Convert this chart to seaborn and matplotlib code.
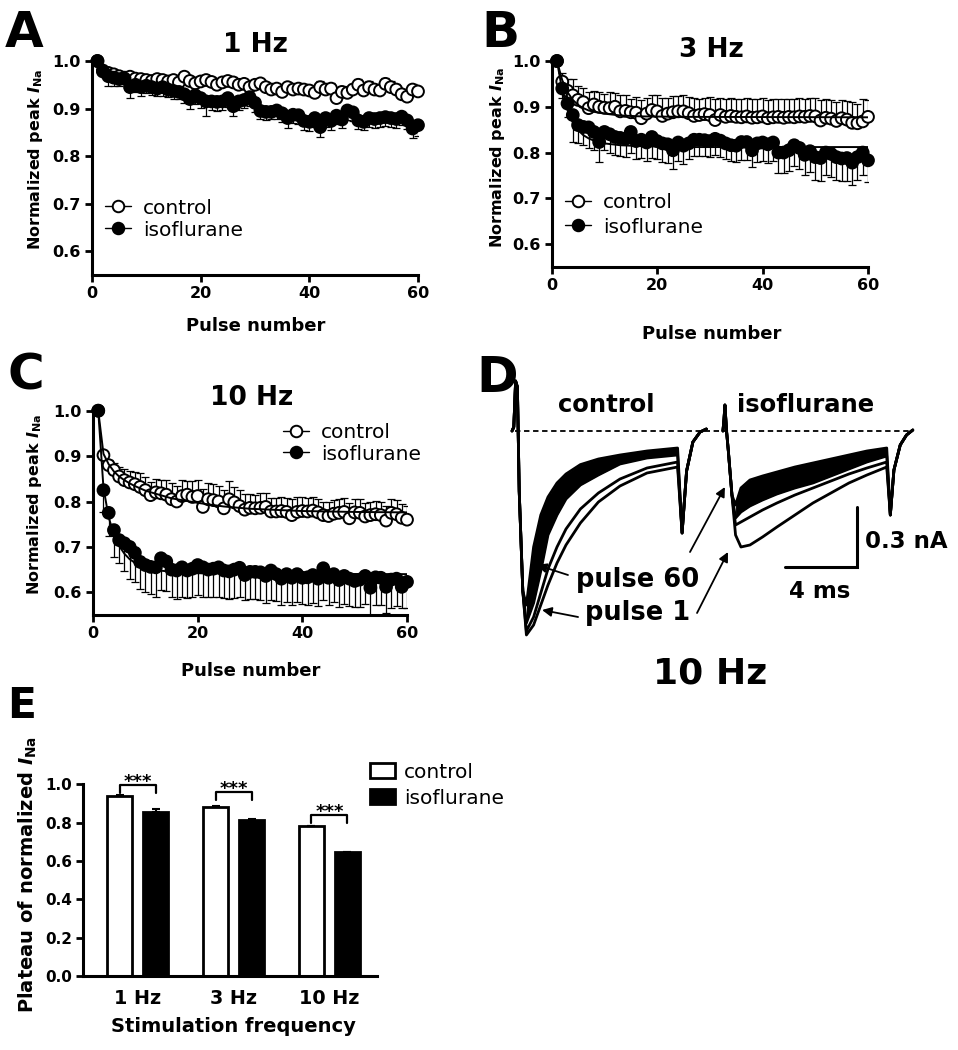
import numpy as np
import pandas as pd
import matplotlib
matplotlib.use("Agg")
import matplotlib.pyplot as plt
import seaborn as sns
from matplotlib.lines import Line2D
from matplotlib.container import BarContainer
from matplotlib.ticker import FormatStrFormatter

# ---------------- data ----------------
pulses = list(range(1, 61))

a_ctrl = [1.000, 0.978, 0.975, 0.972, 0.968, 0.965, 0.967, 0.963, 0.962, 0.960,
          0.958, 0.962, 0.960, 0.957, 0.960, 0.955, 0.967, 0.958, 0.953, 0.957,
          0.960, 0.956, 0.950, 0.955, 0.958, 0.955, 0.950, 0.952, 0.945, 0.950,
          0.953, 0.945, 0.940, 0.942, 0.935, 0.945, 0.940, 0.942, 0.940, 0.938,
          0.933, 0.945, 0.940, 0.942, 0.922, 0.935, 0.933, 0.940, 0.950, 0.938,
          0.945, 0.940, 0.938, 0.952, 0.945, 0.940, 0.930, 0.925, 0.940, 0.936]
a_ctrl_err = [0.000, 0.008, 0.010, 0.010, 0.008, 0.010, 0.010, 0.009, 0.010, 0.008,
              0.010, 0.009, 0.010, 0.010, 0.008, 0.010, 0.009, 0.010, 0.010, 0.009,
              0.010, 0.010, 0.010, 0.009, 0.010, 0.011, 0.010, 0.010, 0.010, 0.010,
              0.010, 0.011, 0.010, 0.010, 0.012, 0.010, 0.011, 0.010, 0.011, 0.012,
              0.012, 0.013, 0.012, 0.012, 0.012, 0.012, 0.012, 0.012, 0.012, 0.012,
              0.012, 0.012, 0.012, 0.012, 0.012, 0.012, 0.012, 0.013, 0.012, 0.013]
a_iso = [1.000, 0.980, 0.968, 0.965, 0.962, 0.963, 0.945, 0.950, 0.945, 0.948,
         0.945, 0.942, 0.945, 0.940, 0.937, 0.935, 0.930, 0.920, 0.928, 0.922,
         0.915, 0.915, 0.914, 0.915, 0.922, 0.905, 0.915, 0.918, 0.924, 0.912,
         0.895, 0.893, 0.893, 0.896, 0.890, 0.880, 0.887, 0.886, 0.874, 0.872,
         0.880, 0.861, 0.880, 0.874, 0.885, 0.877, 0.896, 0.892, 0.875, 0.872,
         0.880, 0.878, 0.880, 0.882, 0.880, 0.878, 0.883, 0.875, 0.858, 0.865]
a_iso_err = [0.000, 0.010, 0.020, 0.018, 0.015, 0.012, 0.022, 0.015, 0.018, 0.015,
             0.016, 0.015, 0.018, 0.015, 0.016, 0.015, 0.018, 0.020, 0.018, 0.020,
             0.030, 0.018, 0.020, 0.018, 0.018, 0.020, 0.018, 0.016, 0.018, 0.020,
             0.018, 0.018, 0.016, 0.018, 0.018, 0.020, 0.018, 0.018, 0.020, 0.020,
             0.018, 0.020, 0.018, 0.020, 0.018, 0.018, 0.020, 0.018, 0.018, 0.018,
             0.018, 0.018, 0.018, 0.018, 0.018, 0.018, 0.018, 0.018, 0.020, 0.022]

b_ctrl = [1.000, 0.955, 0.935, 0.925, 0.915, 0.910, 0.897, 0.905, 0.900, 0.898,
          0.897, 0.900, 0.890, 0.891, 0.888, 0.887, 0.875, 0.885, 0.893, 0.890,
          0.880, 0.885, 0.888, 0.890, 0.890, 0.886, 0.880, 0.882, 0.884, 0.882,
          0.871, 0.882, 0.878, 0.880, 0.878, 0.877, 0.879, 0.876, 0.877, 0.879,
          0.875, 0.877, 0.878, 0.876, 0.878, 0.877, 0.879, 0.878, 0.880, 0.879,
          0.870, 0.876, 0.874, 0.869, 0.875, 0.872, 0.865, 0.864, 0.868, 0.878]
b_ctrl_err = [0.000, 0.018, 0.025, 0.035, 0.030, 0.030, 0.035, 0.030, 0.032, 0.030,
              0.035, 0.030, 0.035, 0.035, 0.030, 0.035, 0.040, 0.035, 0.032, 0.035,
              0.040, 0.035, 0.035, 0.033, 0.035, 0.035, 0.040, 0.035, 0.035, 0.040,
              0.045, 0.038, 0.040, 0.040, 0.040, 0.040, 0.040, 0.040, 0.040, 0.040,
              0.040, 0.040, 0.040, 0.040, 0.040, 0.040, 0.040, 0.040, 0.040, 0.040,
              0.045, 0.040, 0.040, 0.042, 0.040, 0.040, 0.045, 0.042, 0.048, 0.037]
b_iso = [1.000, 0.940, 0.907, 0.882, 0.860, 0.856, 0.855, 0.845, 0.823, 0.845,
         0.840, 0.834, 0.832, 0.830, 0.845, 0.825, 0.828, 0.822, 0.834, 0.825,
         0.820, 0.818, 0.805, 0.822, 0.815, 0.820, 0.828, 0.828, 0.827, 0.825,
         0.830, 0.826, 0.820, 0.816, 0.815, 0.823, 0.823, 0.805, 0.820, 0.822,
         0.818, 0.822, 0.800, 0.800, 0.805, 0.816, 0.810, 0.795, 0.803, 0.790,
         0.788, 0.800, 0.797, 0.790, 0.787, 0.788, 0.778, 0.790, 0.800, 0.783]
b_iso_err = [0.000, 0.020, 0.030, 0.060, 0.040, 0.040, 0.045, 0.040, 0.043, 0.040,
             0.040, 0.040, 0.040, 0.040, 0.045, 0.040, 0.040, 0.040, 0.045, 0.040,
             0.040, 0.040, 0.040, 0.040, 0.040, 0.035, 0.035, 0.035, 0.035, 0.035,
             0.035, 0.035, 0.035, 0.035, 0.035, 0.040, 0.040, 0.037, 0.040, 0.040,
             0.040, 0.040, 0.045, 0.045, 0.045, 0.045, 0.045, 0.045, 0.045, 0.050,
             0.050, 0.050, 0.050, 0.050, 0.050, 0.050, 0.048, 0.050, 0.050, 0.048]

c_ctrl = [1.000, 0.902, 0.880, 0.869, 0.855, 0.847, 0.842, 0.838, 0.832, 0.825,
          0.814, 0.820, 0.818, 0.815, 0.805, 0.800, 0.812, 0.815, 0.810, 0.812,
          0.788, 0.805, 0.803, 0.800, 0.785, 0.805, 0.798, 0.790, 0.782, 0.786,
          0.785, 0.786, 0.788, 0.778, 0.778, 0.779, 0.777, 0.770, 0.777, 0.779,
          0.778, 0.780, 0.776, 0.770, 0.768, 0.773, 0.775, 0.777, 0.763, 0.776,
          0.775, 0.767, 0.770, 0.772, 0.770, 0.758, 0.775, 0.772, 0.764, 0.760]
c_ctrl_err = [0.000, 0.010, 0.012, 0.015, 0.020, 0.025, 0.025, 0.028, 0.030, 0.028,
              0.030, 0.030, 0.030, 0.032, 0.035, 0.035, 0.035, 0.030, 0.035, 0.035,
              0.040, 0.035, 0.035, 0.035, 0.040, 0.040, 0.035, 0.035, 0.035, 0.030,
              0.030, 0.032, 0.030, 0.030, 0.030, 0.032, 0.030, 0.035, 0.033, 0.032,
              0.030, 0.030, 0.030, 0.030, 0.030, 0.030, 0.030, 0.030, 0.033, 0.030,
              0.030, 0.030, 0.030, 0.030, 0.030, 0.033, 0.030, 0.032, 0.030, 0.030]
c_iso = [1.000, 0.825, 0.775, 0.737, 0.715, 0.708, 0.700, 0.687, 0.667, 0.660,
         0.656, 0.655, 0.675, 0.668, 0.650, 0.648, 0.655, 0.648, 0.652, 0.660,
         0.655, 0.650, 0.652, 0.655, 0.648, 0.646, 0.650, 0.654, 0.638, 0.645,
         0.645, 0.644, 0.636, 0.648, 0.640, 0.630, 0.640, 0.632, 0.640, 0.632,
         0.633, 0.638, 0.630, 0.653, 0.632, 0.640, 0.627, 0.636, 0.630, 0.625,
         0.628, 0.636, 0.610, 0.633, 0.632, 0.612, 0.628, 0.630, 0.612, 0.623]
c_iso_err = [0.000, 0.048, 0.050, 0.060, 0.050, 0.060, 0.070, 0.065, 0.060, 0.060,
             0.060, 0.065, 0.070, 0.065, 0.060, 0.062, 0.065, 0.060, 0.062, 0.065,
             0.065, 0.060, 0.062, 0.065, 0.060, 0.060, 0.062, 0.065, 0.055, 0.060,
             0.060, 0.062, 0.060, 0.065, 0.060, 0.058, 0.062, 0.060, 0.062, 0.058,
             0.060, 0.062, 0.060, 0.070, 0.060, 0.062, 0.060, 0.062, 0.060, 0.058,
             0.060, 0.062, 0.060, 0.062, 0.060, 0.058, 0.062, 0.060, 0.047, 0.058]

# fitted curves (pulse, value)
b_ctrl_fit_x = [1, 2, 3, 4, 5, 6, 7, 8, 10, 13, 17, 25, 60]
b_ctrl_fit_y = [1.0, 0.958, 0.932, 0.915, 0.904, 0.897, 0.892, 0.889, 0.885, 0.881, 0.879, 0.878, 0.877]
b_iso_fit_x = [1, 2, 3, 4, 5, 6, 7, 8, 10, 13, 17, 25, 60]
b_iso_fit_y = [1.0, 0.935, 0.893, 0.866, 0.849, 0.838, 0.831, 0.826, 0.820, 0.816, 0.814, 0.812, 0.812]
c_ctrl_fit_x = [1, 2, 3, 4, 5, 6, 7, 8, 10, 12, 15, 20, 25, 30, 40, 50, 60]
c_ctrl_fit_y = [1.0, 0.905, 0.882, 0.866, 0.855, 0.847, 0.840, 0.834, 0.824, 0.817, 0.807,
                0.797, 0.789, 0.784, 0.779, 0.777, 0.776]
c_iso_fit_x = [1, 2, 3, 4, 5, 6, 7, 8, 9, 10, 12, 15, 20, 30, 60]
c_iso_fit_y = [1.0, 0.830, 0.765, 0.727, 0.702, 0.685, 0.673, 0.665, 0.659, 0.655, 0.649,
               0.645, 0.642, 0.641, 0.640]

# panel D current traces (time in ms, current in nA)
ctrl_onset_t = [0.0, 0.1, 0.2, 0.3, 0.4, 0.6]
ctrl_onset_i = [0.0, 0.02, 0.25, 0.22, -0.30, -0.80]
ctrl_decay_t = [0.8, 1.2, 1.6, 2.0, 2.5, 3.0, 3.8, 4.8, 6.0, 7.5, 9.2]
ctrl_pulse1 = [-1.02, -0.97, -0.87, -0.77, -0.66, -0.57, -0.46, -0.355, -0.275, -0.21, -0.18]
ctrl_pulse2 = [-1.00, -0.93, -0.81, -0.69, -0.58, -0.49, -0.39, -0.31, -0.24, -0.185, -0.155]
ctrl_pulse4 = [-0.96, -0.86, -0.70, -0.52, -0.42, -0.34, -0.27, -0.22, -0.165, -0.135, -0.12]
ctrl_pulse60 = [-0.87, -0.58, -0.42, -0.33, -0.26, -0.215, -0.168, -0.14, -0.12, -0.10, -0.085]
ctrl_tail_t = [9.45, 9.7, 10.05, 10.45, 10.8]
ctrl_tail_i = [-0.51, -0.20, -0.055, -0.005, 0.01]

iso_sweep_offset = 11.72
iso_onset_t = [0.0, 0.06, 0.11, 0.2, 0.3, 0.5]
iso_onset_i = [0.0, 0.06, 0.13, 0.0, -0.10, -0.32]
iso_decay_t = [0.7, 1.0, 1.5, 2.2, 3.0, 4.0, 5.0, 6.0, 7.0, 8.0, 9.1]
iso_pulse1 = [-0.52, -0.58, -0.57, -0.53, -0.48, -0.42, -0.36, -0.31, -0.26, -0.22, -0.18]
iso_pulse2 = [-0.47, -0.455, -0.43, -0.395, -0.36, -0.32, -0.285, -0.25, -0.215, -0.185, -0.155]
iso_pulse4 = [-0.435, -0.405, -0.375, -0.345, -0.315, -0.285, -0.26, -0.225, -0.19, -0.155, -0.125]
iso_pulse60 = [-0.37, -0.285, -0.245, -0.225, -0.205, -0.18, -0.16, -0.14, -0.12, -0.10, -0.085]
iso_tail_t = [9.3, 9.5, 9.85, 10.2, 10.55]
iso_tail_i = [-0.42, -0.195, -0.07, -0.02, 0.005]
baseline_span = [0.17, 22.3]
scalebar_ms = 4
scalebar_na = 0.3

# panel E
freq_labels = ["1 Hz", "3 Hz", "10 Hz"]
plateau_ctrl = [0.939, 0.882, 0.781]
plateau_iso = [0.857, 0.815, 0.645]
plateau_ctrl_err = [0.003, 0.003, 0.004]
plateau_iso_err = [0.013, 0.003, 0.004]
bracket_top = [0.995, 0.958, 0.840]

groups = ["control", "isoflurane"]

# ---------------- style ----------------
sns.set_theme(style="ticks", rc={
    "axes.edgecolor": "black", "xtick.color": "black", "ytick.color": "black",
    "text.color": "black", "axes.labelcolor": "black"})
plt.rcParams["font.family"] = ["DejaVu Sans"]
plt.rcParams["font.weight"] = "bold"
plt.rcParams["axes.labelweight"] = "bold"
plt.rcParams["mathtext.fontset"] = "custom"
plt.rcParams["mathtext.rm"] = "DejaVu Sans:bold"
plt.rcParams["mathtext.it"] = "DejaVu Sans:italic:bold"
plt.rcParams["mathtext.bf"] = "DejaVu Sans:bold"

W, H = 958, 1050
fig = plt.figure(figsize=(W / 100, H / 100), dpi=100)


def px_axes(left, top, right, bottom):
    return fig.add_axes([left / W, 1 - bottom / H, (right - left) / W, (bottom - top) / H])


def fig_text(x, y, s, **kw):
    fig.text(x / W, 1 - y / H, s, **kw)


def style_axes(ax):
    sns.despine(ax=ax)
    for sp in ("left", "bottom"):
        ax.spines[sp].set_linewidth(2.2)
    ax.tick_params(width=2, length=5)


def decay_panel(ax, ctrl, ctrl_err, iso, iso_err, fits, leg_xy, leg_space, lab_xy, ylab_xy):
    ax.errorbar(pulses, ctrl, yerr=[np.zeros(60), ctrl_err], fmt="none", ecolor="black",
                elinewidth=0.9, capsize=3.2, capthick=0.9, zorder=1)
    ax.errorbar(pulses, iso, yerr=[iso_err, np.zeros(60)], fmt="none", ecolor="black",
                elinewidth=0.9, capsize=3.2, capthick=0.9, zorder=1)
    df = pd.DataFrame({"pulse": pulses * 2, "value": list(ctrl) + list(iso),
                       "group": ["control"] * 60 + ["isoflurane"] * 60})
    sns.scatterplot(data=df, x="pulse", y="value", hue="group", hue_order=groups,
                    palette={"control": "white", "isoflurane": "black"},
                    edgecolor="black", linewidth=1.4, s=72, ax=ax, legend=False,
                    clip_on=False, zorder=3)
    for fx, fy in fits:
        sns.lineplot(x=fx, y=fy, color="black", lw=1.4, ax=ax, estimator=None, zorder=4)
    ax.set_xlim(0, 60)
    ax.set_ylim(0.55, 1.0)
    ax.set_xticks([0, 20, 40, 60])
    ax.set_yticks([0.6, 0.7, 0.8, 0.9, 1.0])
    ax.yaxis.set_major_formatter(FormatStrFormatter("%.1f"))
    ax.tick_params(labelsize=11.5, pad=3)
    ax.set_xlabel("Pulse number", fontsize=13)
    ax.set_ylabel(r"Normalized peak $I_{\mathrm{Na}}$", fontsize=11.5)
    ax.xaxis.set_label_coords(*lab_xy)
    ax.yaxis.set_label_coords(*ylab_xy)
    style_axes(ax)
    handles = [
        Line2D([], [], color="black", lw=1.0, marker="o", markersize=8.3,
               markerfacecolor="white", markeredgecolor="black", markeredgewidth=1.4),
        Line2D([], [], color="black", lw=1.0, marker="o", markersize=8.3,
               markerfacecolor="black", markeredgecolor="black", markeredgewidth=1.4)]
    ax.legend(handles, groups, loc="upper left",
              bbox_to_anchor=(leg_xy[0] / W, 1 - leg_xy[1] / H), bbox_transform=fig.transFigure,
              frameon=False, borderpad=0, borderaxespad=0, handlelength=1.3,
              handletextpad=0.6, labelspacing=leg_space,
              prop={"weight": "normal", "size": 14.5})


# Panel A
axA = px_axes(92, 61, 418, 275)
decay_panel(axA, a_ctrl, a_ctrl_err, a_iso, a_iso_err, [], (105, 198.5), 0.15,
            (0.503, -0.196), (-0.144, 0.54))
# Panel B
axB = px_axes(551.7, 61, 868, 267)
decay_panel(axB, b_ctrl, b_ctrl_err, b_iso, b_iso_err,
            [(b_ctrl_fit_x, b_ctrl_fit_y), (b_iso_fit_x, b_iso_fit_y)], (565, 193.5), 0.25,
            (0.506, -0.282), (-0.141, 0.534))
# Panel C
axC = px_axes(93, 410.7, 407, 615)
decay_panel(axC, c_ctrl, c_ctrl_err, c_iso, c_iso_err,
            [(c_ctrl_fit_x, c_ctrl_fit_y), (c_iso_fit_x, c_iso_fit_y)], (283, 423.5), 0.1,
            (0.503, -0.23), (-0.156, 0.543))

fig_text(255, 52, "1 Hz", fontsize=19, ha="center", va="baseline")
fig_text(711.7, 57, "3 Hz", fontsize=19, ha="center", va="baseline")
fig_text(251.7, 405, "10 Hz", fontsize=19, ha="center", va="baseline")

# Panel D
axD = px_axes(500, 360, 940, 650)
axD.set_xlim(-0.667, 23.78)
axD.set_ylim(-1.095, 0.355)
axD.axis("off")


def draw_sweep(onset_t, onset_i, decay_t, traces, band, tail_t, tail_i, offset):
    for tr in traces:
        t = np.array(onset_t + decay_t + tail_t) + offset
        cur = onset_i + tr + tail_i
        sns.lineplot(x=t, y=cur, color="black", lw=2.0, ax=axD, estimator=None, sort=False)
    axD.fill_between(np.array(decay_t) + offset, band[0], band[1], color="black", lw=0)


draw_sweep(ctrl_onset_t, ctrl_onset_i, ctrl_decay_t,
           [ctrl_pulse1, ctrl_pulse2, ctrl_pulse4, ctrl_pulse60], (ctrl_pulse4, ctrl_pulse60),
           ctrl_tail_t, ctrl_tail_i, 0.0)
draw_sweep(iso_onset_t, iso_onset_i, iso_decay_t,
           [iso_pulse1, iso_pulse2, iso_pulse4, iso_pulse60], (iso_pulse4, iso_pulse60),
           iso_tail_t, iso_tail_i, iso_sweep_offset)
axD.hlines(0, baseline_span[0], baseline_span[1], colors="black", lw=1.3,
           linestyles=(0, (3, 2)))
# scale bar
sb_x, sb_y = 19.17, -0.68
axD.plot([sb_x - scalebar_ms, sb_x, sb_x], [sb_y, sb_y, sb_y + scalebar_na],
         color="black", lw=2.2, solid_joinstyle="miter")
axD.text(sb_x + 0.45, sb_y + 0.095, f"{scalebar_na} nA", fontsize=16.5, ha="left", va="baseline")
axD.text(sb_x - scalebar_ms / 2 - 0.1, sb_y - 0.155, f"{scalebar_ms} ms", fontsize=16.5,
         ha="center", va="baseline")
axD.text(5.22, 0.095, "control", fontsize=17.5, ha="center", va="baseline")
axD.text(16.3, 0.095, "isoflurane", fontsize=17.5, ha="center", va="baseline")
axD.text(7.0, -0.78, "pulse 60", fontsize=18.5, ha="center", va="baseline")
axD.text(7.0, -0.945, "pulse 1", fontsize=18.5, ha="center", va="baseline")
arrow = dict(arrowstyle="-|>", color="black", lw=1.3, mutation_scale=14, shrinkA=0, shrinkB=0)
axD.annotate("", xy=(1.39, -0.67), xytext=(3.11, -0.72), arrowprops=arrow)
axD.annotate("", xy=(11.83, -0.28), xytext=(9.89, -0.605), arrowprops=arrow)
axD.annotate("", xy=(1.67, -0.895), xytext=(3.67, -0.93), arrowprops=arrow)
axD.annotate("", xy=(12.0, -0.605), xytext=(10.28, -0.91), arrowprops=arrow)
fig_text(710, 683, "10 Hz", fontsize=26, ha="center", va="baseline")

# Panel E
axE = px_axes(83, 784.3, 377, 976)
dfE = pd.DataFrame({"freq": freq_labels * 2, "value": plateau_ctrl + plateau_iso,
                    "group": ["control"] * 3 + ["isoflurane"] * 3})
sns.barplot(data=dfE, x="freq", y="value", hue="group", hue_order=groups,
            palette={"control": "white", "isoflurane": "black"}, edgecolor="black",
            linewidth=2, width=0.75, gap=0.31, errorbar=None, ax=axE, saturation=1)
bar_conts = [c for c in axE.containers if isinstance(c, BarContainer)]
errs = [plateau_ctrl_err, plateau_iso_err]
centers = []
for k, cont in enumerate(bar_conts):
    xs = [p.get_x() + p.get_width() / 2 for p in cont.patches]
    ys = [p.get_height() for p in cont.patches]
    centers.append(xs)
    axE.errorbar(xs, ys, yerr=[np.zeros(3), errs[k]], fmt="none", ecolor="black",
                 elinewidth=1.5, capsize=3, capthick=1.5, zorder=5)
for i in range(3):
    x1, x2 = centers[0][i], centers[1][i]
    yt = bracket_top[i]
    axE.plot([x1, x1, x2, x2], [yt - 0.04, yt, yt, yt - 0.04], color="black", lw=1.6,
             clip_on=False)
    axE.text((x1 + x2) / 2, yt - 0.008, "***", ha="center", va="baseline", fontsize=13)
axE.set_xlim(-0.568, 2.495)
axE.set_ylim(0, 1.0)
axE.set_yticks([0.0, 0.2, 0.4, 0.6, 0.8, 1.0])
axE.yaxis.set_major_formatter(FormatStrFormatter("%.1f"))
style_axes(axE)
axE.tick_params(axis="y", labelsize=11, pad=3)
axE.tick_params(axis="x", length=0, labelsize=13.8, pad=9)
axE.set_xlabel("Stimulation frequency", fontsize=14)
axE.set_ylabel(r"Plateau of normalized $I_{\mathrm{Na}}$", fontsize=14)
axE.xaxis.set_label_coords(0.51, -0.214)
axE.yaxis.set_label_coords(-0.15, 0.527)
h, l = axE.get_legend_handles_labels()
axE.legend(h, l, loc="upper left", bbox_to_anchor=(370 / W, 1 - 762.5 / H),
           bbox_transform=fig.transFigure, frameon=False, borderpad=0, borderaxespad=0,
           handlelength=1.25, handleheight=0.7, handletextpad=0.45, labelspacing=0.35,
           prop={"weight": "normal", "size": 14.5})

# panel letters
fig_text(5, 47, "A", fontsize=36, ha="left", va="baseline")
fig_text(481, 47, "B", fontsize=36, ha="left", va="baseline")
fig_text(8, 390, "C", fontsize=36, ha="left", va="baseline")
fig_text(476, 392, "D", fontsize=36, ha="left", va="baseline")
fig_text(7, 718, "E", fontsize=30.5, ha="left", va="baseline")

fig.savefig("out.png", dpi=100)
